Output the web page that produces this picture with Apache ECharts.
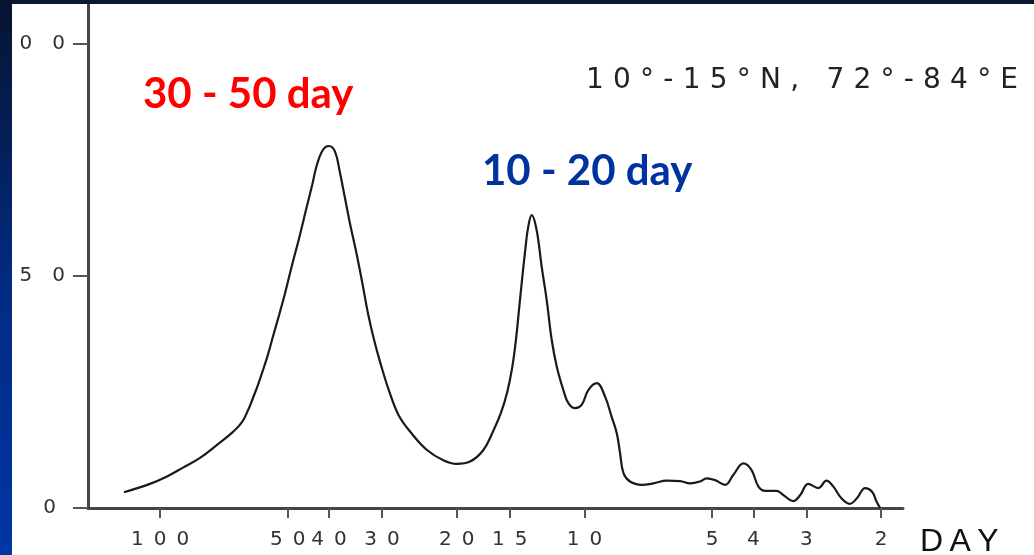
<!DOCTYPE html>
<html><head><meta charset="utf-8">
<script src="https://cdn.jsdelivr.net/npm/echarts@6/dist/echarts.min.js"></script>
<style>html,body{margin:0;padding:0;background:#fff;overflow:hidden}#c{width:1034px;height:555px}</style>
</head><body><div id="c"></div>
<script>
// Tick labels
const dayTicks = [100, 50, 40, 30, 20, 15, 10, 5, 4, 3, 2];
const powerTicks = [0, 50, 100];
// Spectrum: period (days) and spectral power
const periods = [121.6,105.6,96.3,88.3,80.5,73.4,67.3,64.1,62.0,60.4,
  58.8,57.2,55.7,54.2,52.4,50.8,48.9,47.0,45.3,43.8,
  42.7,41.3,40.0,38.7,37.7,36.7,35.7,34.5,33.4,32.4,
  31.3,30.2,28.9,27.4,25.6,23.5,21.5,20.0,18.6,
  17.3,16.4,15.7,15.2,14.8,14.5,14.26,14.03,13.80,13.58,
  13.31,12.96,12.61,12.27,11.94,11.62,11.21,10.91,10.52,10.15,
  9.79,9.35,8.94,8.63,8.39,8.24,8.09,7.81,7.33,6.88,
  6.40,5.95,5.64,5.34,5.15,4.92,4.66,4.46,4.22,4.04,
  3.89,3.75,3.52,3.40,3.22,3.10,2.97,2.81,2.69,2.59,
  2.48,2.37,2.28,2.18,2.10,2.05,2.01];
const power = [3.4,5.2,6.8,8.7,10.8,13.6,16.4,18.5,21.1,23.7,
  26.5,29.7,33.0,36.9,41.6,46.1,52.2,58.2,64.2,69.6,
  73.9,77.2,78.0,76.8,72.4,67.0,61.4,55.2,48.7,42.2,
  36.2,31.0,25.4,20.0,16.2,12.5,10.3,9.5,10.0,
  12.5,16.6,20.7,25.0,30.2,36.2,42.7,49.1,55.2,60.3,
  63.1,59.9,52.0,44.8,36.2,30.5,25.4,22.6,21.5,22.2,
  25.4,26.9,24.0,19.7,16.1,11.8,7.5,5.7,5.0,5.3,
  5.9,5.8,5.3,5.7,6.4,6.0,5.0,7.1,9.6,8.2,
  4.6,3.7,3.7,2.8,1.5,2.8,5.2,4.3,5.9,4.6,
  2.1,0.9,2.1,4.3,3.5,1.4,0];
// Texts
const regionText = ['1','0','°','-','1','5','°','N',',',' ','7','2','°','-','8','4','°','E'];
const band1Text = '30 - 50 day';
const band2Text = '10 - 20 day';
const axisName = ['D','A','Y'];

const spacedX = s => String(s).split('').join('\u2002');
const spacedY = s => String(s).split('').join('\u2003');
const chart = echarts.init(document.getElementById('c'), null, {renderer: 'canvas'});
const labelFont = {fontFamily: '"DejaVu Sans"', fontSize: 20, color: '#333'};

chart.setOption({
  animation: false,
  backgroundColor: '#ffffff',
  grid: {left: 88, right: 131, top: 4, bottom: 47, containLabel: false, outerBoundsMode: 'none'},
  xAxis: {
    type: 'value', inverse: true,
    min: 0.2493, max: 2.1697,
    axisLine: {show: true, onZero: false, lineStyle: {color: '#444', width: 3}},
    axisTick: {show: true, length: 10, customValues: dayTicks.map(Math.log10), lineStyle: {color: '#555', width: 2}},
    axisLabel: Object.assign({margin: 22, customValues: dayTicks.map(Math.log10),
      formatter: v => spacedX(Math.round(Math.pow(10, v)))}, labelFont),
    splitLine: {show: false}
  },
  yAxis: {
    type: 'value', min: 0, max: 108.6,
    axisLine: {show: true, lineStyle: {color: '#444', width: 3}},
    axisTick: {show: true, length: 15, customValues: powerTicks, lineStyle: {color: '#555', width: 2}},
    axisLabel: Object.assign({margin: 23, customValues: powerTicks,
      formatter: v => v === 0 ? '{z|0}' : spacedY(v),
      rich: {z: {padding: [0, 9, 0, 0], fontFamily: '"DejaVu Sans"', fontSize: 20, color: '#333'}}
    }, labelFont),
    splitLine: {show: false}
  },
  series: [{
    type: 'line', smooth: 0.4, symbol: 'none',
    lineStyle: {color: '#1a1a1a', width: 2.2},
    data: periods.map((p, i) => [Math.log10(p), power[i]])
  }],
  graphic: [
    {type: 'text', z: 50, style: {text: band1Text, x: 143, y: 94, fill: '#ff0000',
      font: 'bold 42px Lato', textAlign: 'left', textVerticalAlign: 'middle', align: 'left', verticalAlign: 'middle'}},
    {type: 'text', z: 50, style: {text: band2Text, x: 482, y: 171, fill: '#0033a0',
      font: 'bold 42px Lato', textAlign: 'left', textVerticalAlign: 'middle', align: 'left', verticalAlign: 'middle'}},
    {type: 'text', z: 50, style: {text: regionText.join('\u2004'), x: 586, y: 81, fill: '#222',
      font: '28px "DejaVu Sans"', textAlign: 'left', textVerticalAlign: 'middle', align: 'left', verticalAlign: 'middle'}},
    {type: 'text', z: 50, style: {text: axisName.join('\u2009'), x: 920, y: 542, fill: '#111',
      font: '32px "Liberation Sans"', textAlign: 'left', textVerticalAlign: 'middle', align: 'left', verticalAlign: 'middle'}},
    {type: 'rect', z: 100, shape: {x: 0, y: 0, width: 1034, height: 4}, style: {fill: '#0a1838'}},
    {type: 'rect', z: 100, shape: {x: 0, y: 0, width: 12, height: 555},
      style: {fill: new echarts.graphic.LinearGradient(0, 0, 0, 1, [
        {offset: 0, color: '#061430'}, {offset: 0.5, color: '#022a80'}, {offset: 1, color: '#0036a6'}])}}
  ]
});
</script></body></html>
